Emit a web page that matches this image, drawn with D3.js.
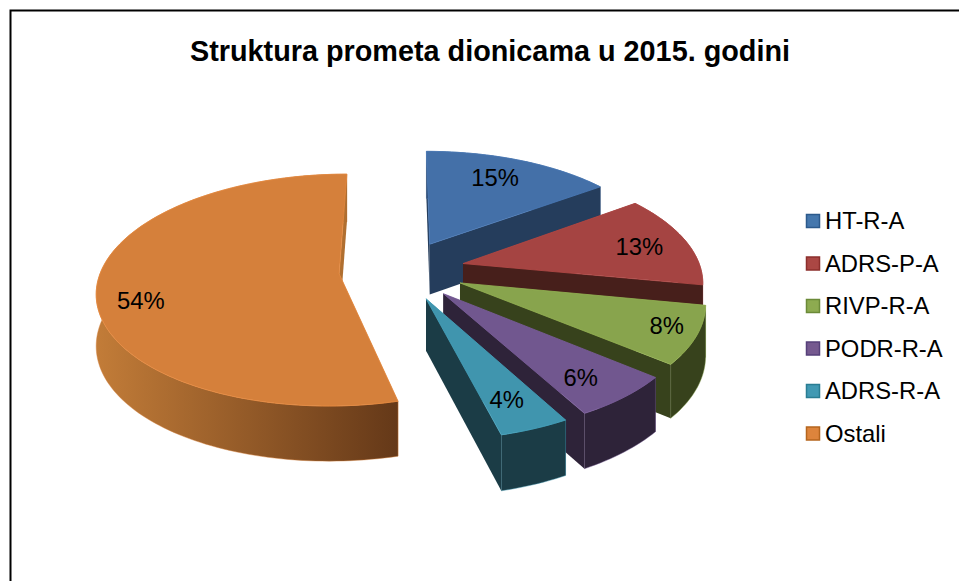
<!DOCTYPE html>
<html><head><meta charset="utf-8">
<script src="https://cdn.jsdelivr.net/npm/d3@7/dist/d3.min.js"></script>
<style>html,body{margin:0;padding:0;background:#fff}svg{display:block}text{font-family:"Liberation Sans",Arial,sans-serif;fill:#000}</style>
</head><body><svg id="c" width="959" height="581"></svg>
<script>
const titleText = "Struktura prometa dionicama u 2015. godini";
const categories = ["HT-R-A","ADRS-P-A","RIVP-R-A","PODR-R-A","ADRS-R-A","Ostali"];
const values = [15,13,8,6,4,54];
const topColors = ["#4470a8","#a54442","#88a44d","#71578f","#4095ae","#d5803b"];
const sideColors = ["#253d5c","#471f1b","#37421c","#2e2339","#1b3c46","#8a5326"];
const legendColors = ["#4577ad","#ab4744","#8dab50","#75598f","#4199b3","#dd843c"];
const legendEdges = ["#2c5a8c","#8c2f2c","#6b8a38","#56407a","#2a7d93","#b5651e"];
const labelRadial = [0.7,0.79,0.88,0.78,0.77,0.82];
const labelDrop = [-6,2,-3,6,5,15];

const svg = d3.select("#c");
const P = {cx:402, cy:270, rx:238, ry:112.6, p:0.14, explode:0.265, depth:51};
const sx = d3.scaleLinear().domain([0,1]).range([P.cx,P.cx+P.rx]);
const sy = d3.scaleLinear().domain([0,1]).range([P.cy,P.cy-P.ry]);
const project = (X,Y,z) => { const w=1+P.p*Y;
  return [sx(X/w), sy(Y/w) + (z? P.depth/Math.sqrt(w):0)]; };
const arcs = d3.pie().sort(null).startAngle(0).endAngle(2*Math.PI).value(d=>d)(values);
const line = d3.line();

const defs = svg.append("defs");
const grad = defs.append("linearGradient").attr("id","wallOstali").attr("gradientUnits","userSpaceOnUse")
  .attr("x1",97).attr("x2",400).attr("y1",0).attr("y2",0);
grad.append("stop").attr("offset",0).attr("stop-color","#c27c38");
grad.append("stop").attr("offset",1).attr("stop-color","#643818");

svg.append("path").attr("d","M10.5,581V10.5H959").attr("fill","none").attr("stroke","#000").attr("stroke-width",2);
svg.append("text").attr("x",490).attr("y",61).attr("text-anchor","middle")
  .attr("font-size",28.8).attr("font-weight","bold").text(titleText);

function geom(a){
  const m=(a.startAngle+a.endAngle)/2;
  const ax=P.explode*Math.sin(m), ay=P.explode*Math.cos(m);
  const pt=(t,r,z)=>project(ax+r*Math.sin(t),ay+r*Math.cos(t),z);
  const n=Math.max(6,Math.ceil((a.endAngle-a.startAngle)*40));
  const ts=d3.range(n+1).map(i=>a.startAngle+(a.endAngle-a.startAngle)*i/n);
  return {m,pt,ts};
}
const order=[0,5,1,2,3,4];
order.forEach(i=>{
  const a=arcs[i], g=geom(a), gS=svg.append("g");
  const side=i===5?"url(#wallOstali)":sideColors[i];
  const flat=i===5?"#b06f30":sideColors[i];
  const wall=t=>[g.pt(t,0,0),g.pt(t,1,0),g.pt(t,1,1),g.pt(t,0,1)];
  const outer=g.ts.map(t=>g.pt(t,1,0)).concat(g.ts.slice().reverse().map(t=>g.pt(t,1,1)));
  gS.append("path").attr("d",line(wall(a.startAngle))+"Z").attr("fill",flat);
  gS.append("path").attr("d",line(outer)+"Z").attr("fill",side)
    .attr("stroke",topColors[i]).attr("stroke-opacity",0.55).attr("stroke-width",0.8);
  gS.append("path").attr("d",line(wall(a.endAngle))+"Z").attr("fill",flat);
  const topPts=[g.pt(0,0,0)].concat(g.ts.map(t=>g.pt(t,1,0)));
  gS.append("path").attr("d",line(topPts)+"Z").attr("fill",topColors[i])
    .attr("stroke",d3.color(topColors[i]).brighter(0.25)).attr("stroke-width",0.8);
});
arcs.forEach((a,i)=>{
  const g=geom(a); const p=g.pt(g.m,labelRadial[i],0);
  svg.append("text").attr("x",p[0]).attr("y",p[1]+8+labelDrop[i]).attr("text-anchor","middle")
    .attr("font-size",23.8).text(values[i]+"%");
});
const ly=d3.scalePoint().domain(categories).range([221,433.5]);
categories.forEach((c,i)=>{
  const y=ly(c);
  svg.append("rect").attr("x",806.5).attr("y",y-6.5).attr("width",13).attr("height",13)
    .attr("fill",legendColors[i]).attr("stroke",legendEdges[i]).attr("stroke-width",1.5);
  svg.append("text").attr("x",825).attr("y",y+8).attr("font-size",23.8).text(c);
});
</script></body></html>
